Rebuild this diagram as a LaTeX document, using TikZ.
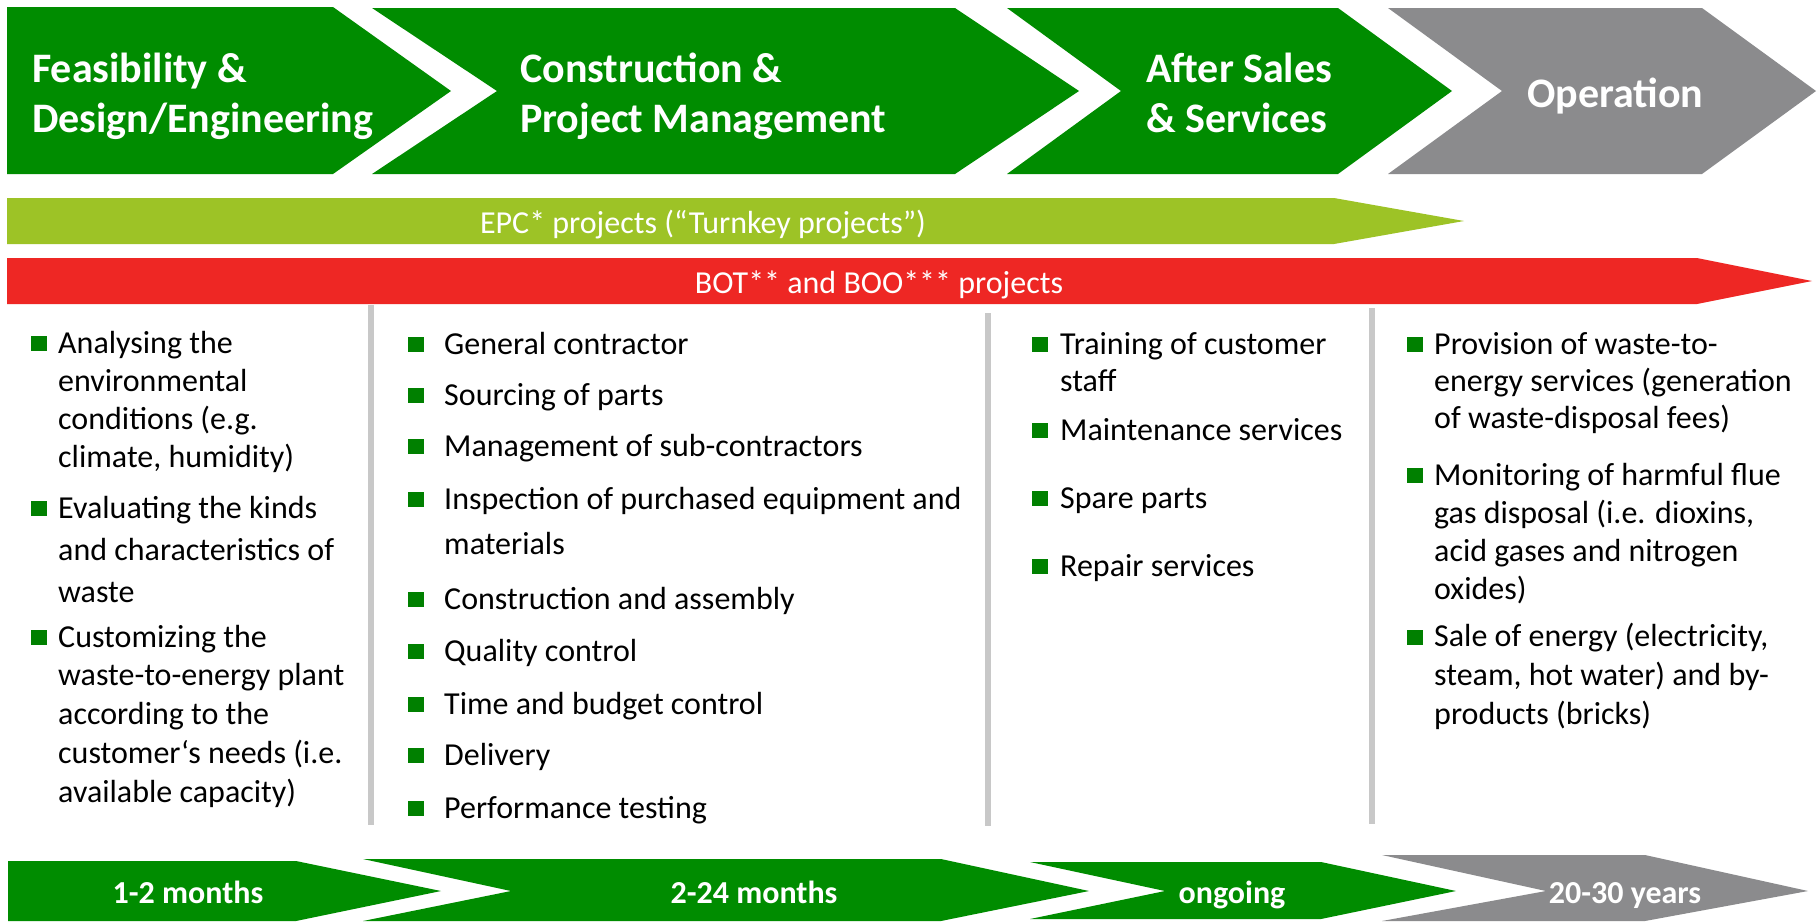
\documentclass[tikz,border=0pt]{standalone}
\usepackage{fontspec}
\setmainfont{Carlito}
\definecolor{cgreen}{RGB}{0,140,0}
\definecolor{lgreen}{RGB}{157,195,38}
\definecolor{cred}{RGB}{238,39,36}
\definecolor{cgray}{RGB}{139,139,141}
\definecolor{sepgray}{RGB}{200,200,200}
\definecolor{bgreen}{RGB}{0,128,0}
\begin{document}
\begin{tikzpicture}[x=1pt,y=-1pt,
  title/.style={anchor=base west, align=left, inner sep=0pt, text=white, font=\bfseries\fontsize{42}{50}\selectfont},
  bartext/.style={anchor=base, inner sep=0pt, text=white, font=\fontsize{32}{38}\selectfont},
  durtext/.style={anchor=base, inner sep=0pt, text=white, font=\bfseries\fontsize{32}{38}\selectfont},
  txt/.style={anchor=base west, align=left, inner sep=0pt, font=\fontsize{32}{38}\selectfont},
  sepline/.style={draw=sepgray, line width=6pt},
  bul/.style={fill=bgreen}]
\useasboundingbox (0,0) rectangle (1820,922);
\fill[white] (0,0) rectangle (1820,922);
% top chevrons
\fill[cgreen] (7,7) -- (333,7) -- (451,91) -- (333,174) -- (7,174) -- cycle;
\fill[cgreen] (372,8) -- (955,8) -- (1079,91) -- (955,174) -- (372,174) -- (497,91) -- cycle;
\fill[cgreen] (1007,8) -- (1338,8) -- (1452,91) -- (1338,174) -- (1007,174) -- (1121,91) -- cycle;
\fill[cgray] (1388,8) -- (1702,8) -- (1816,91) -- (1702,174) -- (1388,174) -- (1502,91) -- cycle;
% multi-line nodes are placed at the baseline of their last line
\node[title] (t1) at (32,132) {Feasibility \&\\Design/Engineering};
\node[title] (t2) at (520,132) {Construction \&\\Project Management};
\node[title] (t3) at (1146,132) {After Sales\\\& Services};
\node[title] (t4) at (1527,107) {Operation};
% bars
\fill[lgreen] (7,198) -- (1334,198) -- (1464,221) -- (1334,244) -- (7,244) -- cycle;
\node[bartext] (epc) at (703,233) {EPC* projects (“Turnkey projects”)};
\fill[cred] (7,258) -- (1697,258) -- (1812,281) -- (1697,304) -- (7,304) -- cycle;
\node[bartext] (bot) at (879,293) {BOT** and BOO*** projects};
% separators
\draw[sepline] (371,305) -- (371,825);
\draw[sepline] (988,313) -- (988,826);
\draw[sepline] (1372,308) -- (1372,824);
% bullets
\foreach \bx/\by in {31/353,31/518,31/647,
  408/354,408/405,408/456,408/509,408/609,408/661,408/714,408/765,408/818,
  1032/354,1032/440,1032/508,1032/576,
  1407/354,1407/485,1407/647}
  \fill[bul] (\bx,\by-17) rectangle (\bx+16,\by-2);
% column 1
\node[txt] (a1) at (58,467) {Analysing the\\environmental\\conditions (e.g.\\climate, humidity)};
\node[txt, font=\fontsize{32}{42}\selectfont] (a2) at (58,602) {Evaluating the kinds\\and characteristics of\\waste};
\node[txt, font=\fontsize{32}{38.75}\selectfont] (a3) at (58,802) {Customizing the\\waste-to-energy plant\\according to the\\customer‘s needs (i.e.\\available capacity)};
% column 2
\node[txt] (b1) at (444,354) {General contractor};
\node[txt] (b2) at (444,405) {Sourcing of parts};
\node[txt] (b3) at (444,456) {Management of sub-contractors};
\node[txt, font=\fontsize{32}{45}\selectfont] (b4) at (444,554) {Inspection of purchased equipment and\\materials};
\node[txt] (b5) at (444,609) {Construction and assembly};
\node[txt] (b6) at (444,661) {Quality control};
\node[txt] (b7) at (444,714) {Time and budget control};
\node[txt] (b8) at (444,765) {Delivery};
\node[txt] (b9) at (444,818) {Performance testing};
% column 3
\node[txt, font=\fontsize{32}{37}\selectfont] (c1) at (1060,391) {Training of customer\\staff};
\node[txt] (c2) at (1060,440) {Maintenance services};
\node[txt] (c3) at (1060,508) {Spare parts};
\node[txt] (c4) at (1060,576) {Repair services};
% column 4
\node[txt, font=\fontsize{32}{37.25}\selectfont] (d1) at (1434,428.5) {Provision of waste-to-\\energy services (generation\\of waste-disposal fees)};
\node[txt, font=\fontsize{32}{38}\selectfont] (d2) at (1434,599) {Monitoring of harmful flue\\gas disposal (i.e. dioxins,\\acid gases and nitrogen\\oxides)};
\node[txt, font=\fontsize{32}{38.75}\selectfont] (d3) at (1434,724) {Sale of energy (electricity,\\steam, hot water) and by-\\products (bricks)};
% bottom chevrons
\fill[cgreen] (8,861) -- (296,861) -- (441,891) -- (296,921) -- (8,921) -- cycle;
\fill[cgreen] (363,859) -- (941,859) -- (1089,891) -- (941,921) -- (363,921) -- (511,891) -- cycle;
\fill[cgreen] (1030,862) -- (1321,862) -- (1456,891) -- (1321,919) -- (1030,919) -- (1165,891) -- cycle;
\fill[cgray] (1382,855) -- (1645,855) -- (1808,891) -- (1645,921) -- (1382,921) -- (1546,891) -- cycle;
\node[durtext] (m1) at (188,903) {1-2 months};
\node[durtext] (m2) at (754,903) {2-24 months};
\node[durtext] (m3) at (1232,903) {ongoing};
\node[durtext] (m4) at (1625,903) {20-30 years};
\end{tikzpicture}
\end{document}
